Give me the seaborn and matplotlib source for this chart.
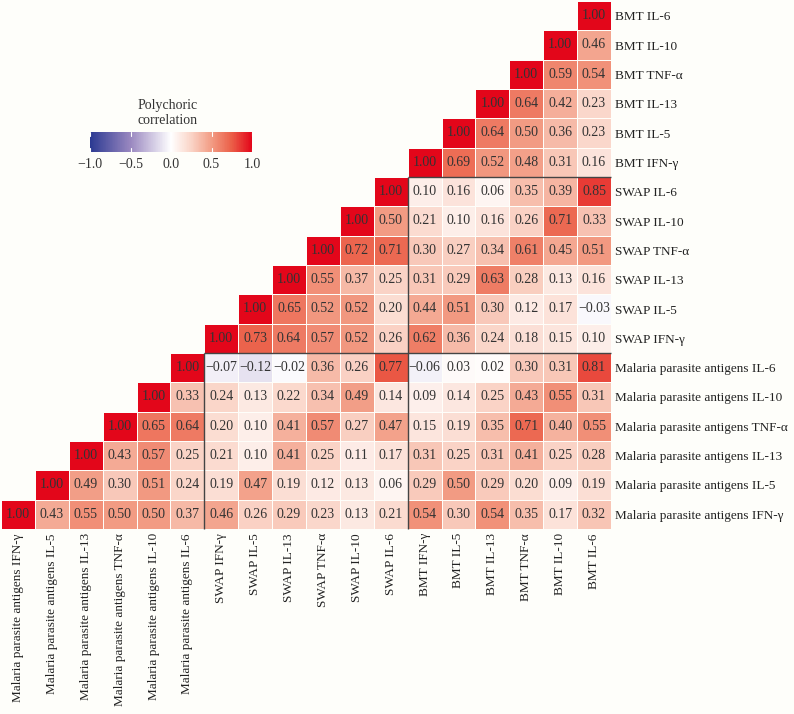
import numpy as np
import pandas as pd
import matplotlib
matplotlib.use("Agg")
import matplotlib.pyplot as plt
from matplotlib.colors import LinearSegmentedColormap
import seaborn as sns

# ---------------- data ----------------
groups = ["Malaria parasite antigens", "SWAP", "BMT"]
cytokines = ["IFN-γ", "IL-5", "IL-13", "TNF-α", "IL-10", "IL-6"]
variables = [f"{g} {c}" for g in groups for c in cytokines]

# upper-triangle rows: row r lists correlations with variables r..17
row_mal_ifn = [1.00, 0.43, 0.55, 0.50, 0.50, 0.37, 0.46, 0.26, 0.29, 0.23, 0.13, 0.21, 0.54, 0.30, 0.54, 0.35, 0.17, 0.32]
row_mal_il5 = [1.00, 0.49, 0.30, 0.51, 0.24, 0.19, 0.47, 0.19, 0.12, 0.13, 0.06, 0.29, 0.50, 0.29, 0.20, 0.09, 0.19]
row_mal_il13 = [1.00, 0.43, 0.57, 0.25, 0.21, 0.10, 0.41, 0.25, 0.11, 0.17, 0.31, 0.25, 0.31, 0.41, 0.25, 0.28]
row_mal_tnf = [1.00, 0.65, 0.64, 0.20, 0.10, 0.41, 0.57, 0.27, 0.47, 0.15, 0.19, 0.35, 0.71, 0.40, 0.55]
row_mal_il10 = [1.00, 0.33, 0.24, 0.13, 0.22, 0.34, 0.49, 0.14, 0.09, 0.14, 0.25, 0.43, 0.55, 0.31]
row_mal_il6 = [1.00, -0.07, -0.12, -0.02, 0.36, 0.26, 0.77, -0.06, 0.03, 0.02, 0.30, 0.31, 0.81]
row_swap_ifn = [1.00, 0.73, 0.64, 0.57, 0.52, 0.26, 0.62, 0.36, 0.24, 0.18, 0.15, 0.10]
row_swap_il5 = [1.00, 0.65, 0.52, 0.52, 0.20, 0.44, 0.51, 0.30, 0.12, 0.17, -0.03]
row_swap_il13 = [1.00, 0.55, 0.37, 0.25, 0.31, 0.29, 0.63, 0.28, 0.13, 0.16]
row_swap_tnf = [1.00, 0.72, 0.71, 0.30, 0.27, 0.34, 0.61, 0.45, 0.51]
row_swap_il10 = [1.00, 0.50, 0.21, 0.10, 0.16, 0.26, 0.71, 0.33]
row_swap_il6 = [1.00, 0.10, 0.16, 0.06, 0.35, 0.39, 0.85]
row_bmt_ifn = [1.00, 0.69, 0.52, 0.48, 0.31, 0.16]
row_bmt_il5 = [1.00, 0.64, 0.50, 0.36, 0.23]
row_bmt_il13 = [1.00, 0.64, 0.42, 0.23]
row_bmt_tnf = [1.00, 0.59, 0.54]
row_bmt_il10 = [1.00, 0.46]
row_bmt_il6 = [1.00]

rows = [row_mal_ifn, row_mal_il5, row_mal_il13, row_mal_tnf, row_mal_il10, row_mal_il6,
        row_swap_ifn, row_swap_il5, row_swap_il13, row_swap_tnf, row_swap_il10, row_swap_il6,
        row_bmt_ifn, row_bmt_il5, row_bmt_il13, row_bmt_tnf, row_bmt_il10, row_bmt_il6]

n = len(variables)
mat = np.full((n, n), np.nan)
for r, vals in enumerate(rows):
    mat[r, r:] = vals

# display: top row = last variable
df = pd.DataFrame(mat[::-1, :], index=variables[::-1], columns=variables)
mask = df.isna()

def fmt(v):
    s = f"{v:.2f}"
    return s.replace("-", "\u2212")

annot = df.apply(lambda col: col.map(lambda v: "" if pd.isna(v) else fmt(v)))

# ---------------- style ----------------
bg = "#FEFEFA"
sns.set_theme(style="white")
plt.rcParams["font.family"] = ["Liberation Serif", "DejaVu Serif"]

cmap = LinearSegmentedColormap.from_list(
    "poly",
    [(0.0, "#2C3A92"), (0.25, "#9A88C0"), (0.5, "#FFFFFF"),
     (0.625, "#FAD4C7"), (0.75, "#F29C84"), (0.875, "#EB5F48"), (1.0, "#E3061A")])

fig = plt.figure(figsize=(7.94, 7.14), dpi=100, facecolor=bg)
ax = fig.add_axes([1 / 794, 1 - 529 / 714, 610 / 794, 528 / 714])
ax.set_facecolor(bg)

sns.heatmap(df, mask=mask, cmap=cmap, vmin=-1, vmax=1, annot=annot.values, fmt="",
            annot_kws={"fontsize": 10, "color": "#333333"},
            linewidths=0.5, linecolor=bg, cbar=False, square=False, ax=ax)

ax.yaxis.tick_right()
ax.set_yticklabels(df.index, rotation=0, fontsize=9.5, color="#222222")
ax.set_xticklabels(df.columns, rotation=90, fontsize=9.5, color="#222222")
ax.tick_params(axis="both", length=0, pad=3)
ax.set_xlabel("")
ax.set_ylabel("")

# block separators
bounds = np.cumsum([len(cytokines)] * len(groups))[:-1]
for b in bounds:
    ytop = n - b  # top edge of last row in block below
    ax.plot([b, b], [ytop, n], color="#444444", lw=1.0, clip_on=False, solid_capstyle="butt")
    ax.plot([b, n], [ytop, ytop], color="#444444", lw=1.0, clip_on=False, solid_capstyle="butt")

# colorbar
cax = fig.add_axes([90 / 794, 1 - 152 / 714, 162 / 794, 20 / 714])
cb = fig.colorbar(ax.collections[0], cax=cax, orientation="horizontal")
cb.set_ticks([-1.0, -0.5, 0.0, 0.5, 1.0])
cb.set_ticklabels(["\u22121.0", "\u22120.5", "0.0", "0.5", "1.0"])
cb.outline.set_visible(False)
cax.tick_params(axis="x", length=0, pad=4, labelsize=10, labelcolor="#333333")
for t in [-1.0, -0.5, 0.0, 0.5, 1.0]:
    cax.axvline(t, ymin=0, ymax=0.2, color="white", lw=0.8)
    cax.axvline(t, ymin=0.8, ymax=1, color="white", lw=0.8)
fig.text(168 / 794, 1 - 113 / 714, "Polychoric\ncorrelation", ha="center", va="center",
         fontsize=10, color="#333333", linespacing=1.3)

fig.savefig("out.png", dpi=100, facecolor=bg)
